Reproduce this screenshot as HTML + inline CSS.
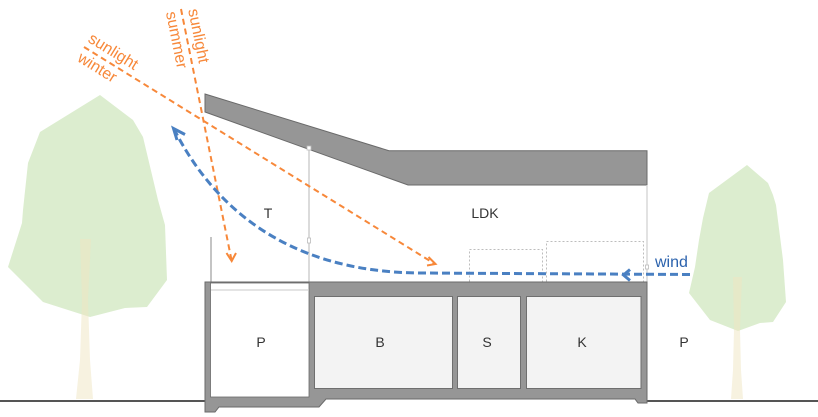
<!DOCTYPE html>
<html><head><meta charset="utf-8"><style>
html,body{margin:0;padding:0;background:#fff;}
svg{display:block;}
text{font-family:"Liberation Sans",Arial,sans-serif;}
</style></head><body>
<svg width="818" height="417" viewBox="0 0 818 417" xmlns="http://www.w3.org/2000/svg">
<!-- trees -->
<polygon points="100,95 133,120 143,137 158,200 165,225 167,280 147,307 125,308 90,317 43,302 8,267 22,223 23,210 28,163 40,132" fill="#dcedcf"/>
<path d="M80,239 L91,239 L88,300 L90,360 L93,399 L76,399 L80,360 L82,300 Z" fill="#efe6c2" fill-opacity="0.5"/>
<polygon points="747,165 768,183 773,195 776,205 783,260 786,302 773,322 760,323 738,331 710,320 689,293 695,267 699,240 703,218 709,193" fill="#dcedcf"/>
<path d="M733,277 L742,277 L740,330 L741,370 L743,399 L731,399 L733,370 L734,330 Z" fill="#efe6c2" fill-opacity="0.5"/>

<!-- ground -->
<line x1="0" y1="401" x2="205" y2="401" stroke="#555" stroke-width="2"/>
<line x1="646" y1="401" x2="818" y2="401" stroke="#555" stroke-width="2"/>

<!-- roof -->
<polygon points="205,94 389,150.7 647,150.7 647,185 408,185 205,112" fill="#969696" stroke="#6a6a6a" stroke-width="1"/>

<!-- thin verticals -->
<line x1="309" y1="148" x2="309" y2="282" stroke="#cfcfcf" stroke-width="1.5"/>
<rect x="307" y="146" width="4" height="4" fill="#fff" stroke="#bbb" stroke-width="0.8"/>
<rect x="307.5" y="238" width="3" height="5" fill="#fff" stroke="#bbb" stroke-width="0.8"/>
<line x1="211" y1="237" x2="211" y2="282" stroke="#8a8a8a" stroke-width="1"/>
<line x1="647" y1="185" x2="647" y2="282" stroke="#cfcfcf" stroke-width="1.2"/>
<rect x="645.5" y="265" width="3" height="4" fill="#fff" stroke="#bbb" stroke-width="0.8"/>

<!-- furniture dashed rects -->
<rect x="469.5" y="249.5" width="73" height="33" fill="none" stroke="#bdbdbd" stroke-width="1" stroke-dasharray="2,2"/>
<rect x="546.5" y="241.5" width="97" height="41" fill="none" stroke="#bdbdbd" stroke-width="1" stroke-dasharray="2,2"/>

<!-- building base -->
<polygon points="205,282 647,282 647,403 638,403 635,399 326,399 319,407 219,407 215,412 205,412" fill="#969696" stroke="#6a6a6a" stroke-width="1"/>
<rect x="210.5" y="283" width="98.5" height="114" fill="#fff" stroke="#6a6a6a" stroke-width="0.8"/>
<line x1="211" y1="290" x2="309" y2="290" stroke="#c8c8c8" stroke-width="1"/>
<rect x="314.5" y="296.5" width="138" height="92" fill="#f3f3f3" stroke="#6f6f6f" stroke-width="1"/>
<rect x="457.5" y="296.5" width="63" height="92" fill="#f3f3f3" stroke="#6f6f6f" stroke-width="1"/>
<rect x="526.5" y="296.5" width="114.5" height="92" fill="#f3f3f3" stroke="#6f6f6f" stroke-width="1"/>

<!-- room labels -->
<g font-size="14" fill="#333" text-anchor="middle">
<text x="261" y="347">P</text>
<text x="380" y="347">B</text>
<text x="487" y="347">S</text>
<text x="582" y="347">K</text>
<text x="684" y="347">P</text>
<text x="268" y="218">T</text>
<text x="485" y="218">LDK</text>
</g>

<!-- sunlight lines -->
<g stroke="#f7883a" stroke-width="2" fill="none">
<line x1="181" y1="9" x2="231.5" y2="260" stroke-dasharray="6,4"/>
<polyline points="226.5,253 231.7,261 236,253" stroke-width="2"/>
<line x1="84" y1="47" x2="435" y2="264" stroke-dasharray="6,4"/>
<polyline points="428.5,257 435.5,264 427,265.5" stroke-width="2"/>
</g>
<g fill="#f7883a" font-size="16" text-anchor="middle" dominant-baseline="central">
<text transform="translate(198,36) rotate(78.6)">sunlight</text>
<text transform="translate(176,40) rotate(78.6)">summer</text>
<text transform="translate(113,52) rotate(31.7)">sunlight</text>
<text transform="translate(97,68) rotate(31.7)">winter</text>
</g>

<!-- wind -->
<path d="M690,274.5 L420,273 C280,272 210,200 174,129" fill="none" stroke="#4a80c2" stroke-width="3" stroke-dasharray="8,4"/>
<polyline points="185,134.5 173.5,128.5 177,140" fill="none" stroke="#4a80c2" stroke-width="3"/>
<polyline points="630,269.5 623.5,275 630,280.5" fill="none" stroke="#4a80c2" stroke-width="3"/>
<text x="655" y="267" font-size="16" fill="#2b62ad">wind</text>
</svg>
</body></html>
